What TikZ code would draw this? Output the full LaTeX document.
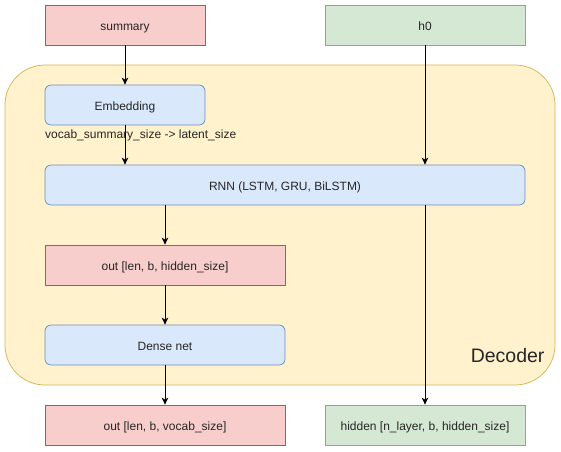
\documentclass[tikz,border=0pt]{standalone}
\usepackage{fontspec}
\setmainfont{Liberation Sans}
\usetikzlibrary{arrows.meta,positioning}
\definecolor{redfill}{HTML}{F8CECC}\definecolor{redline}{HTML}{B85450}
\definecolor{greenfill}{HTML}{D5E8D4}\definecolor{greenline}{HTML}{82B366}
\definecolor{bluefill}{HTML}{DAE8FC}\definecolor{blueline}{HTML}{6C8EBF}
\definecolor{yelfill}{HTML}{FFF2CC}\definecolor{yelline}{HTML}{D6B656}
\tikzset{
  box/.style={draw, line width=0.75pt, inner sep=0pt, text height=11pt, text depth=0pt, font=\fontsize{12}{14}\selectfont, text=black!85},
  redbox/.style={box, fill=redfill, draw=redline},
  greenbox/.style={box, fill=greenfill, draw=greenline},
  bluebox/.style={box, fill=bluefill, draw=blueline, rounded corners=6pt},
  conn/.style={draw=black, line width=0.9pt, -{Stealth[length=7pt,width=6.5pt,inset=2pt]}},
}
\begin{document}
\begin{tikzpicture}[x=1pt,y=-1pt]
\useasboundingbox (0,0) rectangle (561,451);
\fill[white] (0,0) rectangle (561,451);
% container
\node[draw=yelline, fill=yelfill, line width=0.75pt, rounded corners=40pt, minimum width=550pt, minimum height=320pt, inner sep=0pt] (dec) at (280,225) {};
\node[anchor=base east, font=\fontsize{19.5}{22}\selectfont, text=black!85] (declabel) at (548,362) {Decoder};
% nodes
\node[redbox, minimum width=160pt, minimum height=40pt] (sum) at (125,25) {summary};
\node[greenbox, minimum width=200pt, minimum height=40pt] (h0) at (425,25) {h0};
\node[bluebox, minimum width=160pt, minimum height=40pt] (emb) at (125,105) {Embedding};
\node[bluebox, minimum width=480pt, minimum height=40pt] (rnn) at (285,185) {RNN (LSTM, GRU, BiLSTM)};
\node[redbox, minimum width=240pt, minimum height=40pt] (out1) at (165,265) {out [len, b, hidden\_size]};
\node[bluebox, minimum width=240pt, minimum height=40pt] (dense) at (165,345) {Dense net};
\node[redbox, minimum width=240pt, minimum height=40pt] (out2) at (165,425) {out [len, b, vocab\_size]};
\node[greenbox, minimum width=200pt, minimum height=40pt] (hid) at (425,425) {hidden [n\_layer, b, hidden\_size]};
% connectors
\draw[conn] (sum) -- (emb);
\draw[conn] (emb) -- (rnn.north -| emb);
\draw[conn] (h0) -- (rnn.north -| h0);
\draw[conn] (rnn.south -| out1) -- (out1);
\draw[conn] (out1) -- (dense);
\draw[conn] (dense) -- (out2);
\draw[conn] (rnn.south -| hid) -- (hid);
% edge label
\node[anchor=base west, inner sep=0pt, font=\fontsize{12}{14}\selectfont, text=black!85] (lab) at (45,138) {vocab\_summary\_size -> latent\_size};
\end{tikzpicture}
\end{document}
